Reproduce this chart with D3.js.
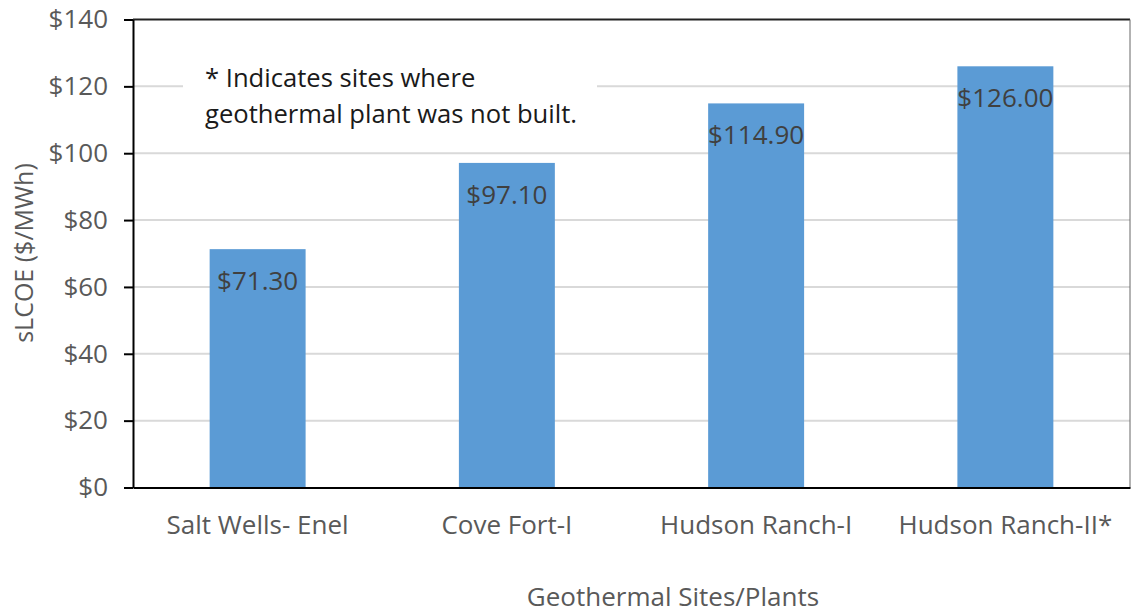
<!DOCTYPE html>
<html>
<head>
<meta charset="utf-8">
<script src="https://cdn.jsdelivr.net/npm/d3@7"></script>
<style>
  body { margin: 0; background: #fff; }
  svg text { font-family: "Open Sans", "Liberation Sans", sans-serif; }
</style>
</head>
<body>
<div id="graphWrapper"></div>
<script>
//data
const SITES = ['Salt Wells- Enel', 'Cove Fort-I', 'Hudson Ranch-I', 'Hudson Ranch-II*'];
const SLCOE = [71.30, 97.10, 114.90, 126.00];
const Y_TICKS = [0, 20, 40, 60, 80, 100, 120, 140];
const NOTE_LINES = ['* Indicates sites where', 'geothermal plant was not built.'];

//layout constants
const CONSTANTS = {
    WIDTH: 1131,
    HEIGHT: 616,
    LEFT: 133,
    RIGHT: 1130,
    TOP: 19.5,
    BOTTOM: 487.5,
    BAR_COLOR: '#5b9bd5',
    GRID_COLOR: '#d9d9d9'
};

let svg = d3.select('#graphWrapper')
    .append('svg')
    .attr('width', CONSTANTS.WIDTH)
    .attr('height', CONSTANTS.HEIGHT);

//scales
let x = d3.scaleBand()
    .domain(SITES)
    .range([CONSTANTS.LEFT, CONSTANTS.RIGHT])
    .paddingInner(0.615)
    .paddingOuter(0.3075);

let y = d3.scaleLinear()
    .domain([0, 140])
    .range([CONSTANTS.BOTTOM, CONSTANTS.TOP]);

//gridlines
svg.append('g')
    .selectAll('line')
    .data(Y_TICKS.filter(d => d > 0 && d < 140))
    .enter()
    .append('line')
    .attr('x1', CONSTANTS.LEFT)
    .attr('x2', CONSTANTS.RIGHT)
    .attr('y1', d => y(d))
    .attr('y2', d => y(d))
    .attr('stroke', CONSTANTS.GRID_COLOR)
    .attr('stroke-width', 2);

//bars
svg.append('g')
    .selectAll('rect')
    .data(SLCOE)
    .enter()
    .append('rect')
    .attr('x', (d, i) => x(SITES[i]))
    .attr('y', d => y(d))
    .attr('width', x.bandwidth())
    .attr('height', d => y(0) - y(d))
    .attr('fill', CONSTANTS.BAR_COLOR);

//value labels inside the bars
svg.append('g')
    .selectAll('text')
    .data(SLCOE)
    .enter()
    .append('text')
    .attr('x', (d, i) => x(SITES[i]) + x.bandwidth() / 2)
    .attr('y', d => y(d) + 41)
    .attr('text-anchor', 'middle')
    .attr('font-size', 26)
    .attr('fill', '#404040')
    .text(d => '$' + d.toFixed(2));

//note box
let note = svg.append('g');
note.append('rect')
    .attr('x', 183)
    .attr('y', 58)
    .attr('width', 414)
    .attr('height', 82)
    .attr('fill', '#fff');
note.selectAll('text')
    .data(NOTE_LINES)
    .enter()
    .append('text')
    .attr('x', 205)
    .attr('y', (d, i) => 87 + i * 36)
    .attr('font-size', 25.6)
    .attr('fill', '#1a1a1a')
    .text(d => d);

//frame top + right
svg.append('line')
    .attr('x1', CONSTANTS.LEFT).attr('x2', CONSTANTS.RIGHT)
    .attr('y1', CONSTANTS.TOP).attr('y2', CONSTANTS.TOP)
    .attr('stroke', '#222').attr('stroke-width', 2);
svg.append('line')
    .attr('x1', CONSTANTS.RIGHT).attr('x2', CONSTANTS.RIGHT)
    .attr('y1', CONSTANTS.TOP).attr('y2', CONSTANTS.BOTTOM)
    .attr('stroke', '#666').attr('stroke-width', 1);

//y axis
let yAxis = d3.axisLeft(y)
    .tickValues(Y_TICKS)
    .tickSize(9)
    .tickSizeOuter(0)
    .tickPadding(16)
    .tickFormat(d => '$' + d);

let yG = svg.append('g')
    .attr('transform', 'translate(' + CONSTANTS.LEFT + ',0)')
    .call(yAxis);
yG.select('.domain').attr('stroke', '#000').attr('stroke-width', 2);
yG.selectAll('.tick line').attr('stroke', '#000').attr('stroke-width', 2);
yG.selectAll('.tick text')
    .attr('font-size', 26)
    .attr('fill', '#595959')
    .style('font-family', '"Open Sans", sans-serif');

//x axis
let xAxis = d3.axisBottom(x)
    .tickSize(0)
    .tickSizeOuter(0)
    .tickPadding(28);

let xG = svg.append('g')
    .attr('transform', 'translate(0,' + CONSTANTS.BOTTOM + ')')
    .call(xAxis);
xG.select('.domain').attr('stroke', '#000').attr('stroke-width', 2);
xG.selectAll('.tick text')
    .attr('font-size', 26)
    .attr('fill', '#595959')
    .style('font-family', '"Open Sans", sans-serif');

//axis titles
svg.append('text')
    .attr('transform', 'translate(33,253) rotate(-90)')
    .attr('text-anchor', 'middle')
    .attr('font-size', 25)
    .attr('fill', '#595959')
    .text('sLCOE ($/MWh)');

svg.append('text')
    .attr('x', 673)
    .attr('y', 606)
    .attr('text-anchor', 'middle')
    .attr('font-size', 26)
    .attr('fill', '#595959')
    .text('Geothermal Sites/Plants');
</script>
</body>
</html>
